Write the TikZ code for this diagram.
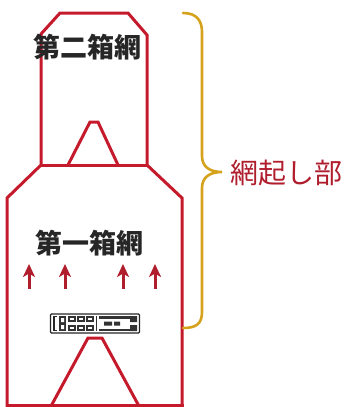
\documentclass[tikz,border=0pt]{standalone}
\usepackage{fontspec}
\usepackage{tikz}
\usetikzlibrary{arrows.meta}
\newfontfamily\jpfont{Noto Sans CJK JP}[BoldFont={Noto Sans CJK JP Black}]
\definecolor{netred}{HTML}{C41A2C}
\definecolor{bracegold}{HTML}{D6A21C}
\definecolor{labelred}{HTML}{B01E2E}

\begin{document}
\begin{tikzpicture}[x=1pt, y=-1pt,
  outline/.style={draw=netred, line width=3pt, line join=miter},
  boxname/.style={font=\jpfont\bfseries\fontsize{27}{27}\selectfont, text=black!85},
  flow/.style={-{Stealth[length=13pt,width=12pt,inset=3.5pt]}, draw=labelred, line width=3pt},
  part/.style={font=\jpfont\fontsize{28}{28}\selectfont, text=labelred, anchor=west}
]
\useasboundingbox (0,0) rectangle (345,407);

% 網の外形（第二箱網と第一箱網）
\draw[outline] (7,408) -- (7,198) -- (41,165) -- (41,34) -- (60,13)
  -- (128,13) -- (147,35) -- (147,165) -- (182,198) -- (182,408);
\draw[outline] (41,165) -- (147,165);
\draw[outline] (5.5,405) -- (183.5,405);

% 昇り口
\draw[outline] (68,165) -- (90,122) -- (98,122) -- (118,165);
\draw[outline] (50,408) -- (88,338) -- (102,338) -- (140,408);

\node[boxname] (second) at (87,47) {第二箱網};
\node[boxname] (first) at (89,243) {第一箱網};

% 魚の流れ
\foreach \x in {29,65,123,155}
  \draw[flow] (\x,289) -- (\x,264);

% 魚群探知機
\node[draw=black!85, fill=white, line width=1.3pt, rounded corners=1pt,
      minimum width=89pt, minimum height=19pt, inner sep=0pt] (sonar) at (95,323.5) {};
\draw[black!85, line width=1.6pt] (57,316.5) -- (54,316.5) -- (54,330.5) -- (57,330.5);
\fill[black!80] (59,316) rectangle (66,331);
\fill[white] (61,318) rectangle (64,322) (61,325) rectangle (64,329);
\foreach \x in {68,77,86} {
  \fill[black!80] (\x,316) rectangle ++(8,6);
  \fill[black!80] (\x,325) rectangle ++(8,6);
  \fill[white] (\x+2,318) rectangle ++(4,2);
  \fill[white] (\x+2,327) rectangle ++(4,2);
}
\fill[black!80] (95.5,316) rectangle (97,331);
\fill[black!80] (99,316) rectangle (137,318.5);
\fill[black!80] (99,328.5) rectangle (137,331);
\fill[black!80] (104,321.5) rectangle ++(8,4) (114,321.5) rectangle ++(6,4);
\fill[black!80] (130,316) rectangle (137,322) (130,325) rectangle (137,331);

% 網起し部の括弧
\draw[bracegold, line width=2.6pt, line cap=round]
  (183,13) .. controls (196,13) and (202,20) .. (202,32)
  -- (202,156) .. controls (202,167) and (210,172) .. (222,172)
  .. controls (210,172) and (202,177) .. (202,188)
  -- (202,312) .. controls (202,324) and (196,328) .. (183,328);
\coordinate (tip) at (222,172);

\node[part] (lift) at (227,173) {網起し部};
\end{tikzpicture}
\end{document}
